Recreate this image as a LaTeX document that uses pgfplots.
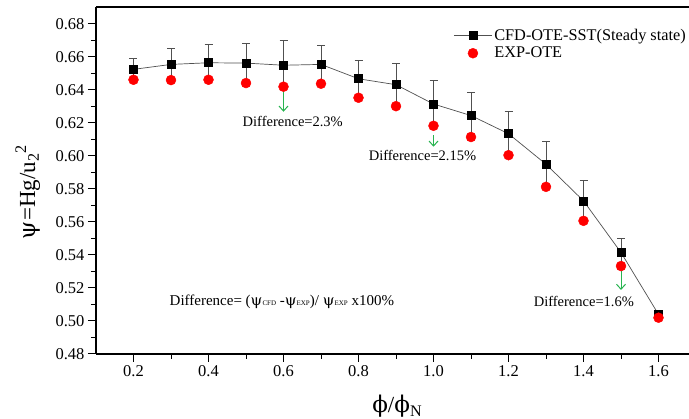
\documentclass[border=0pt]{standalone}
\usepackage{fontspec}
\setmainfont{Liberation Serif}
\newfontfamily\grk{DejaVu Serif}
\usepackage{pgfplots}
\usepackage{pgfplotstable}
\pgfplotsset{compat=1.18}
\usetikzlibrary{arrows.meta}
\definecolor{arrgreen}{RGB}{40,180,80}
\definecolor{errgray}{RGB}{80,80,80}
\pgfplotstableread{
x    cfd    ep      em      exp
0.2  0.6525 0.0065  0.0063  0.6462
0.3  0.6555 0.0095  0.0095  0.6460
0.4  0.6565 0.0110  0.0103  0.6462
0.5  0.6563 0.0122  0.0121  0.6442
0.6  0.6550 0.0150  0.0130  0.6420
0.7  0.6555 0.0115  0.0117  0.6438
0.8  0.6468 0.0112  0.0115  0.6353
0.9  0.6432 0.0128  0.0130  0.6302
1.0  0.6315 0.0140  0.0132  0.6183
1.1  0.6245 0.0138  0.0130  0.6115
1.2  0.6135 0.0135  0.0130  0.6005
1.3  0.5950 0.0137  0.0137  0.5813
1.4  0.5728 0.0125  0.0121  0.5607
1.5  0.5415 0.0083  0.0082  0.5333
1.6  0.5040 0.0010  0.0020  0.5020
}\datatable
\begin{document}
\begin{tikzpicture}
\begin{axis}[
  scale only axis,
  width=593pt, height=347pt,
  xmin=0.1, xmax=1.6813,
  ymin=0.48, ymax=0.6903,
  axis x line*=bottom, axis y line*=left,
  axis line style={line width=1.1pt, -},
  tick align=outside,
  tick style={line width=1pt, black},
  major tick length=8pt, minor tick length=5pt,
  xtick={0.2,0.4,...,1.6},
  ytick={0.48,0.50,...,0.68},
  minor x tick num=1, minor y tick num=1,
  /pgf/number format/assume math mode=true,
  xticklabel style={/pgf/number format/.cd, fixed, fixed zerofill, precision=1},
  yticklabel style={/pgf/number format/.cd, fixed, fixed zerofill, precision=2},
  ticklabel style={font=\fontsize{16.5}{18}\selectfont},
  xlabel={{\grk ϕ}/{\grk ϕ}\textsubscript{N}},
  ylabel={{\grk ψ}=Hg/u\textsubscript{2}\textsuperscript{2}},
  xlabel style={font=\fontsize{23}{25}\selectfont, at={(rel axis cs:0.508,-0.15)}, anchor=center},
  ylabel style={font=\fontsize{23}{25}\selectfont, at={(rel axis cs:-0.115,0.467)}, anchor=center, rotate=0},
  legend style={draw=none, fill=none, at={(rel axis cs:1.0,0.945)}, anchor=north east,
    font=\fontsize{16.3}{18}\selectfont, row sep=1pt, inner sep=1pt,
    nodes={inner xsep=2pt}},
  legend cell align=left,
  legend image code/.code={\draw[mark repeat=2, mark phase=2, #1] plot coordinates {(0pt,0pt) (19pt,0pt) (38pt,0pt)};},
  clip=false,
]
\addplot[errgray, line width=0.7pt, mark=square*, mark size=4pt,
  mark options={black, fill=black, solid},
  error bars/.cd, y dir=both, y explicit,
  error bar style={errgray, line width=0.9pt},
  error mark options={rotate=90, mark size=4pt, errgray, line width=0.9pt}]
  table[x=x, y=cfd, y error plus=ep, y error minus=em] {\datatable};
\addlegendentry{CFD-OTE-SST(Steady state)}
\addplot[only marks, mark=*, mark size=5pt, red, mark options={fill=red, draw=red}]
  table[x=x, y=exp] {\datatable};
\addlegendentry{EXP-OTE}
\draw[line width=1.1pt] (rel axis cs:0,1) -- (rel axis cs:1,1);
\draw[arrgreen, line width=1pt, -{Straight Barb[length=5pt,width=9pt]}] (axis cs:0.6,0.6394) -- (axis cs:0.6,0.6268);
\draw[arrgreen, line width=1pt, -{Straight Barb[length=5pt,width=9pt]}] (axis cs:1.0,0.6127) -- (axis cs:1.0,0.6056);
\draw[arrgreen, line width=1pt, -{Straight Barb[length=5pt,width=9pt]}] (axis cs:1.5,0.5300) -- (axis cs:1.5,0.5188);
\node[anchor=west, inner sep=0pt, font=\fontsize{14.5}{16}\selectfont] at (axis cs:0.4907,0.6212) {Difference=2.3\%};
\node[anchor=west, inner sep=0pt, font=\fontsize{14.5}{16}\selectfont] at (axis cs:0.827,0.6000) {Difference=2.15\%};
\node[anchor=west, inner sep=0pt, font=\fontsize{14.5}{16}\selectfont] at (axis cs:1.267,0.5117) {Difference=1.6\%};
\node[anchor=west, inner sep=0pt, font=\fontsize{15}{16}\selectfont] at (axis cs:0.296,0.5117)
  {Difference= ({\grk ψ}{\fontsize{7}{7}\selectfont CFD} -{\grk ψ}{\fontsize{7}{7}\selectfont EXP})/ {\grk ψ}{\fontsize{7}{7}\selectfont EXP} x100\%};
\end{axis}
\pgfresetboundingbox
\path[use as bounding box] ([xshift=-96pt,yshift=-65pt]current axis.south west) rectangle ([yshift=7pt]current axis.north east);
\end{tikzpicture}
\end{document}
